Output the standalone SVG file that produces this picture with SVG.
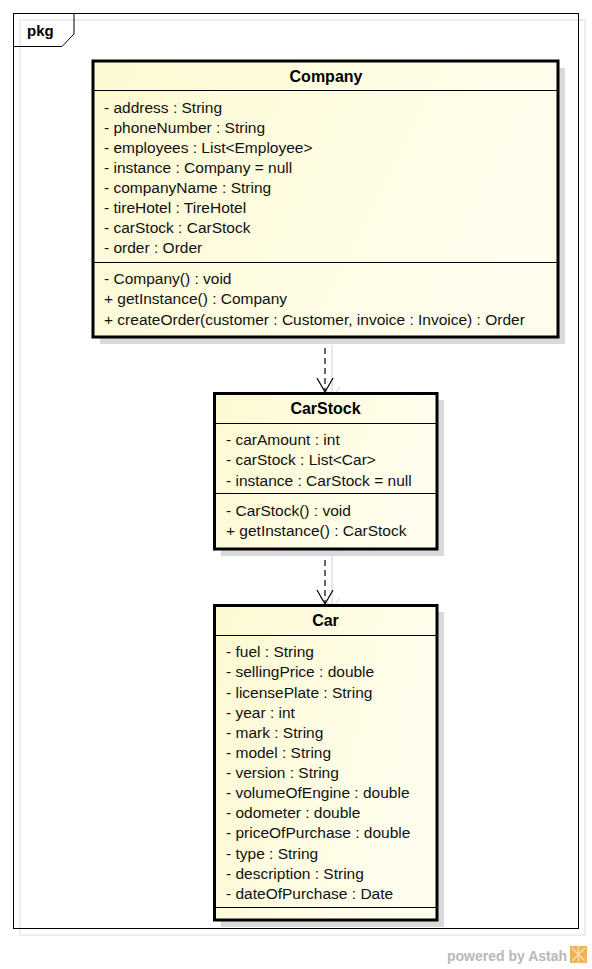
<svg xmlns="http://www.w3.org/2000/svg" width="592" height="969" viewBox="0 0 592 969">
<style>
.t{font-family:"Liberation Sans",Arial,sans-serif;font-size:15.5px;fill:#111}
.h{font-family:"Liberation Sans",Arial,sans-serif;font-size:16px;font-weight:bold;fill:#000;text-anchor:middle}
.box{fill:url(#g);stroke:#000;stroke-width:3}
.sh{fill:#d9d9d9}
.sep{stroke:#000;stroke-width:1}
.dep{stroke:#000;stroke-width:1.2;stroke-dasharray:6 4;fill:none}
.deps{stroke:#d0d0d0;stroke-width:1;fill:none}
</style>
<defs>
<linearGradient id="g" x1="0" y1="0" x2="1" y2="0.3">
<stop offset="0" stop-color="#fdf9d2"/>
<stop offset="1" stop-color="#fffeee"/>
</linearGradient>
</defs>
<rect width="592" height="969" fill="#fff"/>
<g id="frame">
<rect x="20" y="20" width="565" height="915" fill="none" stroke="#dcdcdc" stroke-width="1"/>
<rect x="13.5" y="13.5" width="565" height="915" fill="none" stroke="#000" stroke-width="1"/>
<path d="M13.5 46.5 H62 L74 34 V13.5" fill="none" stroke="#000" stroke-width="1"/>
<text x="27" y="36" font-family="Liberation Sans,Arial,sans-serif" font-size="15" font-weight="bold">pkg</text>
</g>
<g id="connectors">
<path class="deps" d="M332 345 V398"/>
<path class="deps" d="M324 387 L332 398 L340 387"/>
<path class="dep" d="M325 338 V391"/>
<path d="M317 378 L325 392 L333 378" fill="none" stroke="#000" stroke-width="1.2"/>
<path class="deps" d="M332 556 V609"/>
<path class="deps" d="M324 598 L332 609 L340 598"/>
<path class="dep" d="M325 550 V603"/>
<path d="M317 590 L325 604 L333 590" fill="none" stroke="#000" stroke-width="1.2"/>
</g>
<g id="company">
<rect class="sh" x="100" y="68" width="465" height="276"/>
<rect class="box" x="93" y="61" width="465" height="276"/>
<line class="sep" x1="93" y1="90.5" x2="558" y2="90.5"/>
<line class="sep" x1="93" y1="262.5" x2="558" y2="262.5"/>
<text class="h" x="326" y="82">Company</text>
<text class="t" x="104" y="113">- address : String</text>
<text class="t" x="104" y="133">- phoneNumber : String</text>
<text class="t" x="104" y="153">- employees : List&lt;Employee&gt;</text>
<text class="t" x="104" y="173">- instance : Company = null</text>
<text class="t" x="104" y="193">- companyName : String</text>
<text class="t" x="104" y="213">- tireHotel : TireHotel</text>
<text class="t" x="104" y="233">- carStock : CarStock</text>
<text class="t" x="104" y="253">- order : Order</text>
<text class="t" x="104" y="284">- Company() : void</text>
<text class="t" x="104" y="304">+ getInstance() : Company</text>
<text class="t" x="104" y="325">+ createOrder(customer : Customer, invoice : Invoice) : Order</text>
</g>
<g id="carstock">
<rect class="sh" x="221" y="400" width="223" height="156"/>
<rect class="box" x="214.5" y="393.5" width="222.5" height="155.5"/>
<line class="sep" x1="214.5" y1="423.5" x2="437" y2="423.5"/>
<line class="sep" x1="214.5" y1="493.5" x2="437" y2="493.5"/>
<text class="h" x="325.5" y="414">CarStock</text>
<text class="t" x="226" y="445">- carAmount : int</text>
<text class="t" x="226" y="465">- carStock : List&lt;Car&gt;</text>
<text class="t" x="226" y="486">- instance : CarStock = null</text>
<text class="t" x="226" y="516">- CarStock() : void</text>
<text class="t" x="226" y="536">+ getInstance() : CarStock</text>
</g>
<g id="car">
<rect class="sh" x="221" y="612" width="223" height="315"/>
<rect class="box" x="214.5" y="605.5" width="222.5" height="314.5"/>
<line class="sep" x1="214.5" y1="635.5" x2="437" y2="635.5"/>
<line class="sep" x1="214.5" y1="907.5" x2="437" y2="907.5"/>
<text class="h" x="325.5" y="626">Car</text>
<text class="t" x="226" y="657">- fuel : String</text>
<text class="t" x="226" y="677">- sellingPrice : double</text>
<text class="t" x="226" y="698">- licensePlate : String</text>
<text class="t" x="226" y="718">- year : int</text>
<text class="t" x="226" y="738">- mark : String</text>
<text class="t" x="226" y="758">- model : String</text>
<text class="t" x="226" y="778">- version : String</text>
<text class="t" x="226" y="798">- volumeOfEngine : double</text>
<text class="t" x="226" y="818">- odometer : double</text>
<text class="t" x="226" y="838">- priceOfPurchase : double</text>
<text class="t" x="226" y="859">- type : String</text>
<text class="t" x="226" y="879">- description : String</text>
<text class="t" x="226" y="899">- dateOfPurchase : Date</text>
</g>
<g id="watermark">
<text x="447" y="961" font-family="Liberation Sans,Arial,sans-serif" font-size="14" font-weight="bold" fill="#b8b8b8">powered by Astah</text>
<rect x="570" y="946" width="17" height="17" fill="#f3b05a"/>
<path d="M572 948 L585 961 M585 948 L572 961 M578.5 946 V963" stroke="#fbdcae" stroke-width="1.5"/>
</g>
</svg>
